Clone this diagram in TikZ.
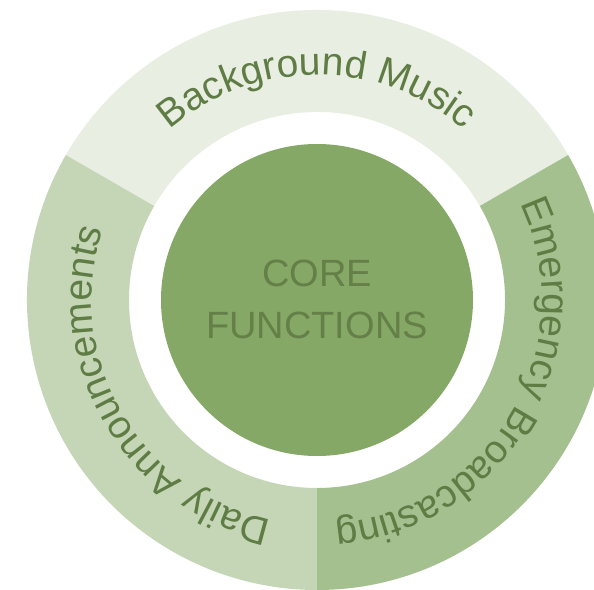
\documentclass[tikz,border=0pt]{standalone}
\usepackage{fontspec}
\setmainfont{Liberation Sans}
\usetikzlibrary{decorations.text}
\definecolor{segA}{HTML}{E8EEE1}
\definecolor{segB}{HTML}{C4D6B6}
\definecolor{segC}{HTML}{A4C08F}
\definecolor{coreFill}{HTML}{86A866}
\definecolor{ringText}{HTML}{5F7C44}
\definecolor{coreText}{HTML}{647F47}
\newcommand{\ringfont}{\fontsize{39}{47}\selectfont}
\tikzset{
  corecircle/.style={circle, fill=coreFill, minimum size=312pt, inner sep=0pt},
  coretext/.style={text=coreText, font=\fontsize{38}{46}\selectfont, inner sep=0pt, anchor=base},
  ringlabel/.style={decorate, decoration={text along path, text align=center, text color=ringText}}
}
\begin{document}
\begin{tikzpicture}[x=1pt,y=1pt]
\useasboundingbox (-317pt,-289pt) rectangle (277pt,300pt);
\clip (-317pt,-289pt) rectangle (277pt,300pt);
% ring segments
\fill[segA] (30:290pt) arc[start angle=30,end angle=150,radius=290pt] -- (150:188pt) arc[start angle=150,end angle=30,radius=188pt] -- cycle;
\fill[segB] (150:290pt) arc[start angle=150,end angle=270,radius=290pt] -- (270:188pt) arc[start angle=270,end angle=150,radius=188pt] -- cycle;
\fill[segC] (270:290pt) arc[start angle=270,end angle=390,radius=290pt] -- (30:188pt) arc[start angle=390,end angle=270,radius=188pt] -- cycle;
% ring labels
\path[ringlabel, decoration={text={|\ringfont|Background Music}}] (150:225pt) arc[start angle=150,end angle=30,radius=225pt];
\path[ringlabel, decoration={text={|\ringfont|Daily Announcements}}] (270:225pt) arc[start angle=270,end angle=150,radius=225pt];
\path[ringlabel, decoration={text={|\ringfont|Emergency Broadcasting}}] (30:225pt) arc[start angle=30,end angle=-90,radius=225pt];
% core
\node[corecircle] (core) at (0,0) {};
\node[coretext] (line1) at (0pt,13pt) {CORE};
\node[coretext] (line2) at (0pt,-38pt) {FUNCTIONS};
\end{tikzpicture}
\end{document}
